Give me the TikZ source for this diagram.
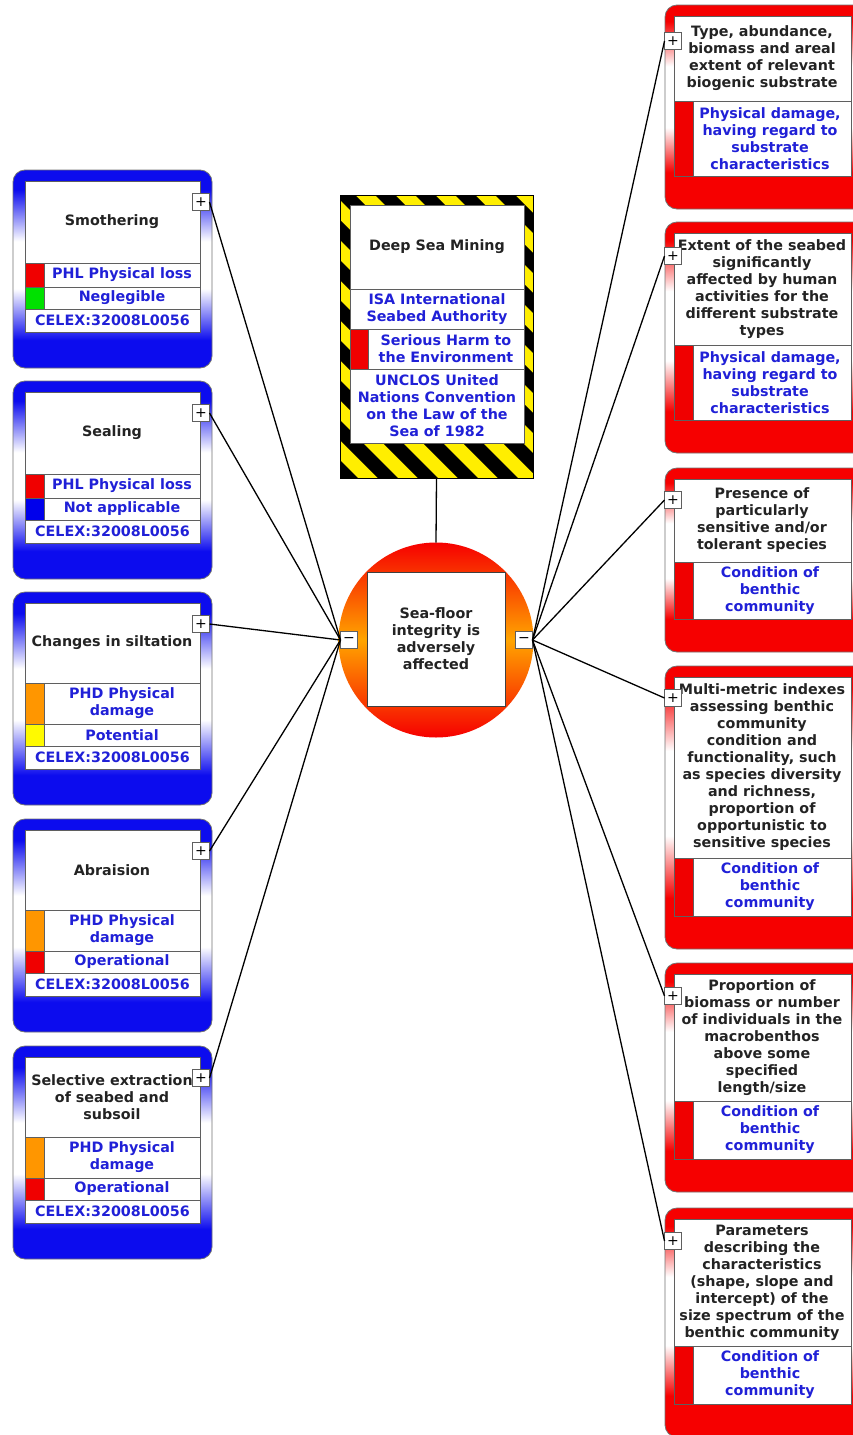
\documentclass[tikz,border=0pt]{standalone}
\usepackage{fontspec}
\setmainfont{DejaVu Sans}

\definecolor{cardblue}{RGB}{12,12,238}
\definecolor{cardred}{RGB}{246,0,0}
\definecolor{inkblue}{RGB}{32,32,215}
\definecolor{inkdark}{RGB}{35,35,35}
\definecolor{cellgray}{RGB}{95,95,95}
\definecolor{hazyellow}{RGB}{255,238,0}
\definecolor{chipred}{RGB}{240,0,0}
\definecolor{chipgreen}{RGB}{0,225,0}
\definecolor{chiporange}{RGB}{255,150,0}
\definecolor{chipyellow}{RGB}{255,250,0}
\definecolor{chipblue}{RGB}{0,0,235}
\definecolor{ringorange}{RGB}{255,165,0}

% card backgrounds: coloured at top and bottom, white band in between
\pgfdeclareverticalshading{bluefade}{100bp}{color(0bp)=(cardblue); color(25bp)=(cardblue); color(32bp)=(cardblue); color(45bp)=(white); color(57bp)=(white); color(70bp)=(cardblue); color(100bp)=(cardblue)}
\pgfdeclareverticalshading{redfade}{100bp}{color(0bp)=(cardred); color(25bp)=(cardred); color(34bp)=(cardred); color(45bp)=(white); color(60bp)=(white); color(71bp)=(cardred); color(100bp)=(cardred)}

\tikzset{
  every node/.style={inner sep=0pt, outer sep=0pt},
  cardtxt/.style={font=\bfseries\fontsize{14.3}{17}\selectfont, align=center},
  head/.style={cardtxt, text=inkdark},
  item/.style={cardtxt, text=inkblue},
  cell/.style={draw=cellgray, line width=0.9pt, fill=white},
  chip/.style={draw=cellgray, line width=0.9pt},
  bluecard/.style={draw=black!55, line width=0.8pt, rounded corners=12pt,
    shade, shading=bluefade, anchor=north west, minimum width=199},
  redcard/.style={draw=black!55, line width=0.8pt, rounded corners=12pt,
    shade, shading=redfade, anchor=north west, minimum width=205},
  toggle/.style={draw=cellgray, fill=white, line width=0.8pt, minimum size=17,
    font=\fontsize{14}{14}\selectfont},
  link/.style={draw=black, line width=1.3pt},
  hazard/.style={fill=hazyellow, anchor=north west, minimum width=193, minimum height=283},
}

% pressure card: id, top, title height, first row height, title, category, its colour, level, its colour
\newcommand\leftcard[9]{%
  \pgfmathsetmacro\ya{#2+11}%
  \pgfmathsetmacro\yb{\ya+#3}%
  \pgfmathsetmacro\yc{\yb+#4}%
  \pgfmathsetmacro\yd{\yc+22}%
  \pgfmathsetmacro\ye{\yd+23}%
  \pgfmathsetmacro\hh{\ye+36-#2}%
  \node[bluecard, minimum height=\hh] (#1) at (13,#2) {};
  \draw[cell] (25,\ya) rectangle (200,\yb);
  \draw[cell] (25,\yb) rectangle (200,\yc);
  \draw[cell] (25,\yc) rectangle (200,\yd);
  \draw[cell] (25,\yd) rectangle (200,\ye);
  \filldraw[chip, fill=#7] (25,\yb) rectangle (44,\yc);
  \filldraw[chip, fill=#9] (25,\yc) rectangle (44,\yd);
  \node[head] (#1-t) at (112,{(\ya+\yb)/2}) {#5};
  \node[item] (#1-c) at (122,{(\yb+\yc)/2}) {#6};
  \node[item] (#1-l) at (122,{(\yc+\yd)/2}) {#8};
  \node[item] (#1-x) at (112.5,{(\yd+\ye)/2}) {CELEX:32008L0056};
  \node[toggle] (#1-p) at (201,{#2+32}) {+};
}

% indicator card: id, top, title height, criterion height, title, criterion, toggle y
\newcommand\rightcard[7]{%
  \pgfmathsetmacro\ya{#2+11}%
  \pgfmathsetmacro\yb{\ya+#3}%
  \pgfmathsetmacro\yc{\yb+#4}%
  \pgfmathsetmacro\hh{\yc+33-#2}%
  \node[redcard, minimum height=\hh] (#1) at (665,#2) {};
  \draw[cell] (674,\ya) rectangle (851,\yb);
  \draw[cell] (674,\yb) rectangle (851,\yc);
  \filldraw[chip, fill=chipred] (674,\yb) rectangle (693,\yc);
  \node[head] (#1-t) at (762,{(\ya+\yb)/2}) {#5};
  \node[item] (#1-s) at (770,{(\yb+\yc)/2}) {#6};
  \node[toggle] (#1-p) at (673,#7) {+};
}

\begin{document}
\begin{tikzpicture}[x=1pt,y=-1pt]
\useasboundingbox (0,0) rectangle (853,1435);
\clip (0,0) rectangle (853,1435);
\fill[white] (0,0) rectangle (853,1435);

% activity: yellow/black warning frame
\node[hazard] (hz) at (340,195) {};
\begin{scope}
  \clip (hz.north west) rectangle (hz.south east);
  \foreach \k in {-180,-140,...,360}{
    \fill[black] ({\k+195},195) -- ({\k+215},195) -- ({\k+498},478) -- ({\k+478},478) -- cycle;}
\end{scope}
\draw[black, line width=1pt] (hz.north west) rectangle (hz.south east);
\draw[cell] (350,205) rectangle (524,289);
\draw[cell] (350,289) rectangle (524,329);
\draw[cell] (350,329) rectangle (524,369);
\draw[cell] (350,369) rectangle (524,443);
\filldraw[chip, fill=chipred] (350,329) rectangle (368,369);
\node[head] (hz-t) at (437,247) {Deep Sea Mining};
\node[item] (hz-a) at (437,309) {ISA International\\Seabed Authority};
\node[item] (hz-h) at (446,349) {Serious Harm to\\the Environment};
\node[item] (hz-u) at (437,406) {UNCLOS United\\Nations Convention\\on the Law of the\\Sea of 1982};

% central effect
\node[circle, minimum size=195, shade, top color=cardred, bottom color=cardred,
  middle color=ringorange] (pr) at (436,640) {};
\node[cell, draw=black!75, minimum width=138, minimum height=134, head] (pr-t)
  at (436,639) {Sea-floor\\integrity is\\adversely\\affected};
\node[toggle] (mL) at (349,640) {−};
\node[toggle] (mR) at (524,640) {−};

% pressures
\leftcard{L1}{170}{82}{24}{Smothering}{PHL Physical loss}{chipred}{Neglegible}{chipgreen}
\leftcard{L2}{381}{82}{24}{Sealing}{PHL Physical loss}{chipred}{Not applicable}{chipblue}
\leftcard{L3}{592}{80}{41}{Changes in siltation}{PHD Physical\\damage}{chiporange}{Potential}{chipyellow}
\leftcard{L4}{819}{80}{41}{Abraision}{PHD Physical\\damage}{chiporange}{Operational}{chipred}
\leftcard{L5}{1046}{80}{41}{Selective extraction\\of seabed and\\subsoil}{PHD Physical\\damage}{chiporange}{Operational}{chipred}

% indicators
\rightcard{R1}{5}{85}{75}{Type, abundance,\\biomass and areal\\extent of relevant\\biogenic substrate}{Physical damage,\\having regard to\\substrate\\characteristics}{41}
\rightcard{R2}{222}{112}{75}{Extent of the seabed\\significantly\\affected by human\\activities for the\\different substrate\\types}{Physical damage,\\having regard to\\substrate\\characteristics}{256}
\rightcard{R3}{468}{83}{57}{Presence of\\particularly\\sensitive and/or\\tolerant species}{Condition of\\benthic\\community}{500}
\rightcard{R4}{666}{181}{58}{Multi-metric indexes\\assessing benthic\\community\\condition and\\functionality, such\\as species diversity\\and richness,\\proportion of\\opportunistic to\\sensitive species}{Condition of\\benthic\\community}{698}
\rightcard{R5}{963}{127}{58}{Proportion of\\biomass or number\\of individuals in the\\macrobenthos\\above some\\specified\\length/size}{Condition of\\benthic\\community}{996}
\rightcard{R6}{1208}{127}{58}{Parameters\\describing the\\characteristics\\(shape, slope and\\intercept) of the\\size spectrum of the\\benthic community}{Condition of\\benthic\\community}{1241}

% connectors
\draw[link] (hz.south) -- (pr.north);
\foreach \n in {L1,L2,L3,L4,L5}{\draw[link] (mL.west) -- (\n-p.east);}
\foreach \n in {R1,R2,R3,R4,R5,R6}{\draw[link] (mR.east) -- (\n-p.west);}
\end{tikzpicture}
\end{document}
